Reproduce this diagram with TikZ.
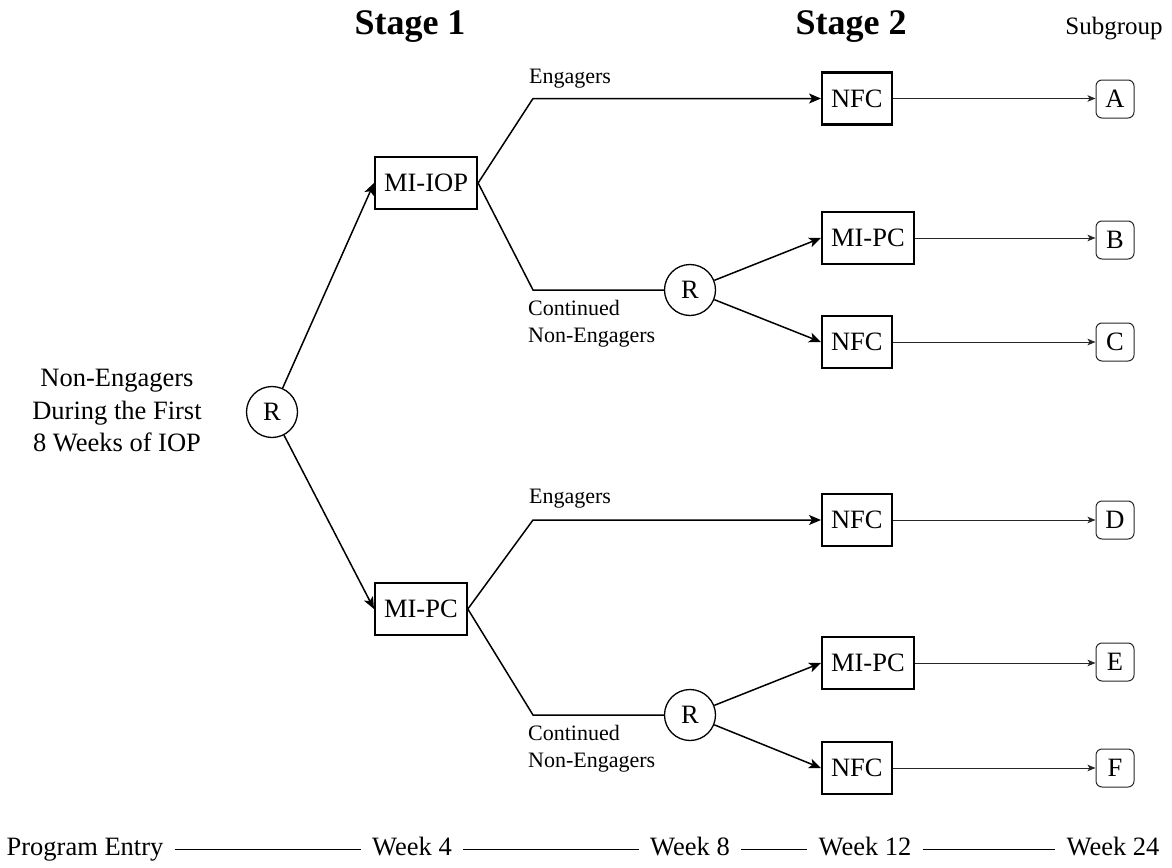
\documentclass[tikz,border=0pt]{standalone}
\usepackage{fontspec}
\setmainfont{Liberation Serif}
\usetikzlibrary{arrows.meta}
\newcommand{\mainsz}{\fontsize{26.5}{32.5}\selectfont}
\newcommand{\smallsz}{\fontsize{22}{27}\selectfont}
\newcommand{\stagesz}{\fontsize{36}{40}\selectfont\bfseries}
\newcommand{\subgsz}{\fontsize{25}{30}\selectfont}
\tikzset{
  trtbox/.style={draw, line width=2.2pt, font=\mainsz, inner xsep=9pt, inner ysep=0pt, minimum height=52pt, anchor=west},
  randnode/.style={draw, circle, line width=1.3pt, font=\mainsz, minimum size=51pt, inner sep=0pt},
  subbox/.style={draw=black!85, line width=1pt, rounded corners=6pt, font=\mainsz, minimum size=38pt, inner sep=0pt},
  mainarrow/.style={line width=1.5pt, -{Stealth[length=12pt,width=10pt,inset=3pt]}},
  mainline/.style={line width=1.5pt},
  thinarrow/.style={draw=black!85, line width=1pt, -{Stealth[length=8pt,width=6.5pt,inset=2pt]}},
  brlabel/.style={font=\smallsz, inner sep=0pt},
  tlnode/.style={font=\mainsz, inner xsep=11pt, inner ysep=0pt, text height=18.5pt, text depth=8pt, anchor=base},
  tlline/.style={line width=1.2pt}
}
\begin{document}
\begin{tikzpicture}[x=1pt, y=-1pt]
\useasboundingbox (0,0) rectangle (1172,867);
% headers
\node[font=\stagesz, anchor=base, inner sep=0pt] (st1) at (410,35) {Stage 1};
\node[font=\stagesz, anchor=base, inner sep=0pt] (st2) at (851,35) {Stage 2};
\node[font=\subgsz, anchor=base, inner sep=0pt] (subg) at (1114,35) {Subgroup};
% left text
\node[font=\mainsz, align=center, inner sep=0pt] (intro) at (117,411) {Non-Engagers\\During the First\\8 Weeks of IOP};
% randomisation nodes
\node[randnode] (r1) at (272,412) {R};
\node[randnode] (r2) at (690,290) {R};
\node[randnode] (r3) at (690,715) {R};
% stage 1 boxes
\node[trtbox] (miiop) at (374,183) {MI-IOP};
\node[trtbox] (mipc1) at (374,609) {MI-PC};
% stage 2 boxes
\node[trtbox] (nfcA) at (821,98.5) {NFC};
\node[trtbox] (mipcB) at (821,238) {MI-PC};
\node[trtbox] (nfcC) at (821,342) {NFC};
\node[trtbox] (nfcD) at (821,520) {NFC};
\node[trtbox] (mipcE) at (821,663) {MI-PC};
\node[trtbox] (nfcF) at (821,768) {NFC};
% subgroups
\node[subbox] (sA) at (1115,99) {A};
\node[subbox] (sB) at (1115,240) {B};
\node[subbox] (sC) at (1115,342) {C};
\node[subbox] (sD) at (1115,520) {D};
\node[subbox] (sE) at (1115,662) {E};
\node[subbox] (sF) at (1115,768) {F};
% corners
\coordinate (cu1) at (533,98.5);
\coordinate (cd1) at (533,290);
\coordinate (cu2) at (533,520);
\coordinate (cd2) at (533,715);
% branch labels
\node[brlabel, anchor=base] (eng1) at (570,84) {Engagers};
\node[brlabel, anchor=base] (eng2) at (570,503) {Engagers};
\node[brlabel, anchor=north west, align=left] (cne1) at (528,300) {Continued\\Non-Engagers};
\node[brlabel, anchor=north west, align=left] (cne2) at (528,725) {Continued\\Non-Engagers};
% connectors
\draw[mainarrow] (r1) -- (miiop.west);
\draw[mainarrow] (r1) -- (mipc1.west);
\draw[mainarrow] (miiop.east) -- (cu1) -- (nfcA.west);
\draw[mainline] (miiop.east) -- (cd1) -- (r2);
\draw[mainarrow] (r2) -- (mipcB.west);
\draw[mainarrow] (r2) -- (nfcC.west);
\draw[mainarrow] (mipc1.east) -- (cu2) -- (nfcD.west);
\draw[mainline] (mipc1.east) -- (cd2) -- (r3);
\draw[mainarrow] (r3) -- (mipcE.west);
\draw[mainarrow] (r3) -- (nfcF.west);
\draw[thinarrow] (nfcA.east) -- (sA.west |- nfcA.east);
\draw[thinarrow] (mipcB.east) -- (sB.west |- mipcB.east);
\draw[thinarrow] (nfcC.east) -- (sC.west |- nfcC.east);
\draw[thinarrow] (nfcD.east) -- (sD.west |- nfcD.east);
\draw[thinarrow] (mipcE.east) -- (sE.west |- mipcE.east);
\draw[thinarrow] (nfcF.east) -- (sF.west |- nfcF.east);
% timeline
\node[tlnode] (pe) at (85,855) {Program Entry};
\node[tlnode] (w4) at (412,855) {Week 4};
\node[tlnode] (w8) at (690,855) {Week 8};
\node[tlnode] (w12) at (865,855) {Week 12};
\node[tlnode] (w24) at (1113,855) {Week 24};
\draw[tlline] (pe.east) -- (w4.west);
\draw[tlline] (w4.east) -- (w8.west);
\draw[tlline] (w8.east) -- (w12.west);
\draw[tlline] (w12.east) -- (w24.west);
\end{tikzpicture}
\end{document}
